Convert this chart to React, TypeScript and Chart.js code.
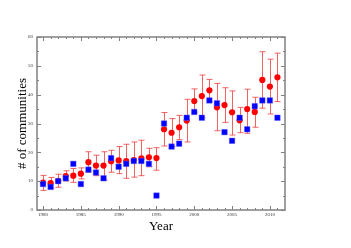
import React, { useEffect, useRef } from "react";
import { Chart, registerables } from "chart.js";
Chart.register(...registerables);

const years = [1980,1981,1982,1983,1984,1985,1986,1987,1988,1989,1990,1991,1992,1993,1994,1995,1996,1997,1998,1999,2000,2001,2002,2003,2004,2005,2006,2007,2008,2009,2010,2011];
const redValues = [9.5,9.3,10.1,11.8,11.9,12.6,16.6,15.4,15.4,16.9,17.2,17.0,17.3,17.9,18.3,18.0,28.0,26.8,28.7,31.0,37.8,39.5,41.5,35.6,36.4,33.9,31.1,35.0,34.0,45.1,42.8,46.0];
const redHigh = [12.0,11.3,12.4,13.6,14.4,14.6,20.2,19.0,20.2,20.7,22.0,22.8,23.6,24.2,21.4,21.6,33.8,31.7,32.8,38.4,42.0,46.8,45.3,43.9,42.4,41.3,35.6,41.9,39.1,54.9,52.3,54.4];
const redLow = [6.8,7.6,7.9,10.1,9.6,10.8,13.1,11.9,10.4,13.1,12.6,11.0,11.4,11.9,15.0,13.8,22.2,22.0,24.4,23.6,33.9,32.0,37.5,27.5,30.4,26.0,26.8,26.6,28.7,35.3,33.3,37.6];
const blueValues = [9,8,10,11,16,9,14,13,11,18,15,16,17,17,16,5,30,22,23,32,34,32,38,37,27,24,32,28,36,38,38,32];
const xTicks = [1980,1985,1990,1995,2000,2005,2010];
const yTicks = [0,10,20,30,40,50,60];
const xMinorTicks = years;
const yMinorTicks = [5,15,25,35,45,55];

const errorBarPlugin = {
  id: "errorBars",
  beforeDatasetsDraw(chart: any) {
    const { ctx, scales } = chart;
    const xs = scales.x, ys = scales.y;
    ctx.save();
    ctx.strokeStyle = "rgba(240,70,70,0.85)";
    ctx.lineWidth = 1;
    years.forEach((yr, i) => {
      const px = Math.round(xs.getPixelForValue(yr)) + 0.5;
      const top = ys.getPixelForValue(redHigh[i]);
      const bot = ys.getPixelForValue(redLow[i]);
      ctx.beginPath();
      ctx.moveTo(px, top); ctx.lineTo(px, bot);
      ctx.moveTo(px - 3, top); ctx.lineTo(px + 3, top);
      ctx.moveTo(px - 3, bot); ctx.lineTo(px + 3, bot);
      ctx.stroke();
    });
    ctx.restore();
  },
};

const framePlugin = {
  id: "frame",
  afterDraw(chart: any) {
    const { ctx, chartArea: a, scales } = chart;
    const xs = scales.x, ys = scales.y;
    ctx.save();
    ctx.strokeStyle = "#808080";
    ctx.lineWidth = 1.5;
    ctx.strokeRect(a.left, a.top, a.right - a.left, a.bottom - a.top);
    ctx.lineWidth = 1;
    ctx.beginPath();
    xMinorTicks.forEach((v) => {
      const major = xTicks.includes(v);
      const len = major ? 4 : 2;
      const px = Math.round(xs.getPixelForValue(v)) + 0.5;
      ctx.moveTo(px, a.bottom); ctx.lineTo(px, a.bottom - len);
      ctx.moveTo(px, a.top); ctx.lineTo(px, a.top + len);
    });
    [...yTicks, ...yMinorTicks].forEach((v) => {
      const major = yTicks.includes(v);
      const len = major ? 4 : 2;
      const py = Math.round(ys.getPixelForValue(v)) + 0.5;
      ctx.moveTo(a.left, py); ctx.lineTo(a.left + len, py);
      ctx.moveTo(a.right, py); ctx.lineTo(a.right - len, py);
    });
    ctx.stroke();
    ctx.restore();
  },
};

export default function App() {
  const ref = useRef<HTMLCanvasElement | null>(null);
  useEffect(() => {
    if (!ref.current) return;
    const chart = new Chart(ref.current, {
      type: "scatter",
      data: {
        datasets: [
          {
            label: "blue",
            data: years.map((x, i) => ({ x, y: blueValues[i] })),
            backgroundColor: "#0000ff",
            borderColor: "rgba(90,90,255,0.45)",
            borderWidth: 1,
            pointStyle: "rect",
            pointRadius: 3.9,
          },
          {
            label: "red",
            data: years.map((x, i) => ({ x, y: redValues[i] })),
            backgroundColor: "#ff0000",
            borderColor: "#ff0000",
            borderWidth: 0,
            pointStyle: "circle",
            pointRadius: 3.1,
          },
        ],
      },
      options: {
        responsive: false,
        animation: false,
        layout: { padding: { top: 37, right: 66, left: 0, bottom: 0 } },
        plugins: { legend: { display: false }, tooltip: { enabled: false } },
        scales: {
          x: {
            type: "linear",
            min: 1979.2,
            max: 2012,
            grid: { display: false, drawTicks: false },
            border: { display: false },
            afterBuildTicks: (s: any) => { s.ticks = xTicks.map((v) => ({ value: v })); },
            afterFit: (s: any) => { s.height = 38; },
            ticks: {
              font: { family: "Liberation Serif", size: 5 },
              color: "#333",
              padding: 2,
              maxRotation: 0,
              callback: (v: any) => String(v),
            },
            title: {
              display: true,
              text: "Year",
              font: { family: "Liberation Serif", size: 13 },
              color: "#000",
              padding: { top: 0, bottom: 14 },
            },
          },
          y: {
            type: "linear",
            min: 0,
            max: 60,
            grid: { display: false, drawTicks: false },
            border: { display: false },
            afterBuildTicks: (s: any) => { s.ticks = yTicks.map((v) => ({ value: v })); },
            afterFit: (s: any) => { s.width = 37; },
            ticks: {
              font: { family: "Liberation Serif", size: 5 },
              color: "#333",
              padding: 4,
            },
            title: {
              display: true,
              text: "# of communities",
              font: { family: "Liberation Serif", size: 13 },
              color: "#000",
              padding: { top: 15, bottom: 0 },
            },
          },
        },
      },
      plugins: [errorBarPlugin, framePlugin],
    } as any);
    return () => chart.destroy();
  }, []);
  return (
    <div style={{ position: "fixed", left: 0, top: 0, width: 351, height: 248, background: "#fff" }}>
      <canvas ref={ref} width={351} height={248} style={{ width: 351, height: 248 }} />
    </div>
  );
}
